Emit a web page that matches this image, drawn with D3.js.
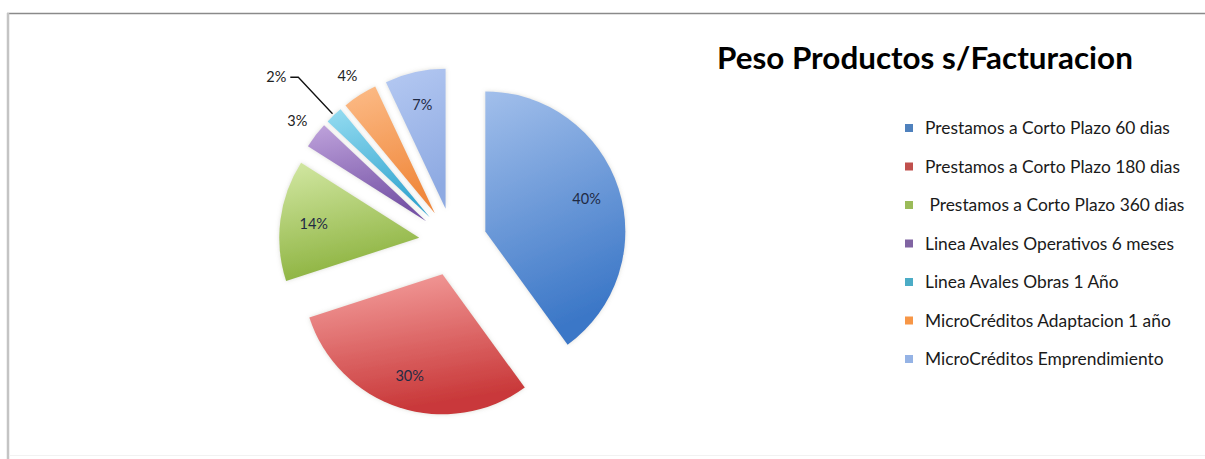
<!DOCTYPE html>
<html>
<head>
<meta charset="utf-8">
<script src="https://cdn.jsdelivr.net/npm/d3@7"></script>
<style>
  html, body { margin: 0; padding: 0; background: #fff; }
  svg { display: block; }
  text { font-family: Lato, "Open Sans", sans-serif; }
</style>
</head>
<body>
<svg id="chart" width="1205" height="459"></svg>
<script>
// Product weights over billing (percent)
const categories = [
  "Prestamos a Corto Plazo 60 dias",
  "Prestamos a Corto Plazo 180 dias",
  " Prestamos a Corto Plazo 360 dias",
  "Linea Avales Operativos 6 meses",
  "Linea Avales Obras 1 Año",
  "MicroCréditos Adaptacion 1 año",
  "MicroCréditos Emprendimiento"
];
const values = [40, 30, 14, 3, 2, 4, 7];
const labels = ["40%", "30%", "14%", "3%", "2%", "4%", "7%"];
// Slices small enough to carry their label outside the pie
const outsideLabel = [false, false, false, true, true, true, false];
const title = "Peso Productos s/Facturacion";

// Gradient stops per slice: light top, deeper bottom
const colorTop    = ["#a2bfeb", "#f6a3a1", "#d3e8a4", "#bfa3dc", "#95dcf1", "#fcbc88", "#b5c9f2"];
const colorBottom = ["#3b77c7", "#c9393a", "#8db340", "#7653a6", "#35a6d0", "#f0883c", "#8eaae2"];
const swatch      = ["#4f81bd", "#c0504d", "#9bbb59", "#8064a2", "#4bacc6", "#f79646", "#95b3e5"];

const svg = d3.select("#chart");
const W = 1205, H = 459;

// Chart frame
svg.append("line").attr("x1", 7).attr("x2", W).attr("y1", 13.5).attr("y2", 13.5)
  .attr("stroke", "#8a8a8a").attr("stroke-width", 1.5);
svg.append("line").attr("x1", 8).attr("x2", 8).attr("y1", 13).attr("y2", H)
  .attr("stroke", "#c4c4c4").attr("stroke-width", 2.5);
svg.append("line").attr("x1", 9).attr("x2", W).attr("y1", 455.5).attr("y2", 455.5)
  .attr("stroke", "#f2f2f2").attr("stroke-width", 1);

const defs = svg.append("defs");
values.forEach((v, i) => {
  const g = defs.append("linearGradient").attr("id", "grad" + i)
    .attr("x1", 0).attr("y1", 0).attr("x2", 0.25).attr("y2", 1);
  g.append("stop").attr("offset", "0%").attr("stop-color", colorTop[i]);
  g.append("stop").attr("offset", "100%").attr("stop-color", colorBottom[i]);
});
const glow = defs.append("filter").attr("id", "glow")
  .attr("x", "-20%").attr("y", "-20%").attr("width", "140%").attr("height", "140%");
glow.append("feGaussianBlur").attr("in", "SourceAlpha").attr("stdDeviation", 2.2).attr("result", "b");
glow.append("feFlood").attr("flood-color", "#9a9a8a").attr("flood-opacity", 0.35);
glow.append("feComposite").attr("in2", "b").attr("operator", "in").attr("result", "s");
const merge = glow.append("feMerge");
merge.append("feMergeNode").attr("in", "s");
merge.append("feMergeNode").attr("in", "SourceGraphic");

// Pie layout
const cx = 453, cy = 242, R = 140, explode = 34;
const pie = d3.pie().sort(null).value(d => d)(values);
const arc = d3.arc().innerRadius(0).outerRadius(R);
const dirOf = a => [Math.sin(a), -Math.cos(a)];

const gPie = svg.append("g").attr("transform", `translate(${cx},${cy})`);
const slices = gPie.selectAll("g.slice").data(pie).join("g")
  .attr("class", "slice")
  .attr("transform", d => {
    const m = (d.startAngle + d.endAngle) / 2, [dx, dy] = dirOf(m);
    return `translate(${dx * explode},${dy * explode})`;
  });
slices.append("path")
  .attr("d", arc)
  .attr("fill", d => `url(#grad${d.index})`)
  .attr("filter", "url(#glow)");

// Labels inside large slices
slices.filter(d => !outsideLabel[d.index]).append("text")
  .attr("transform", d => {
    const m = (d.startAngle + d.endAngle) / 2, [dx, dy] = dirOf(m);
    const lr = R * 0.76;
    return `translate(${dx * lr},${dy * lr})`;
  })
  .attr("text-anchor", "middle").attr("dy", "0.35em")
  .attr("font-size", 14.5).attr("fill", "#1f2a44")
  .text(d => labels[d.index]);

// Labels outside small slices
pie.forEach(d => {
  const i = d.index;
  if (!outsideLabel[i]) return;
  const m = (d.startAngle + d.endAngle) / 2, [dx, dy] = dirOf(m);
  if (values[i] === 2) {
    // crowded slice: leader line out to a label further away
    const p1 = [dx * (explode + R + 2), dy * (explode + R + 2)];
    const p2 = [dx * 226, dy * 226];
    const p3 = [p2[0] - 8, p2[1]];
    gPie.append("polyline")
      .attr("points", [p1, p2, p3].map(p => p.join(",")).join(" "))
      .attr("fill", "none").attr("stroke", "#111").attr("stroke-width", 1.3);
    gPie.append("text").attr("x", p3[0] - 4).attr("y", p3[1])
      .attr("text-anchor", "end").attr("dy", "0.35em")
      .attr("font-size", 14.5).attr("fill", "#222").text(labels[i]);
  } else {
    const lr = 197;
    gPie.append("text").attr("x", dx * lr).attr("y", dy * lr)
      .attr("text-anchor", "middle").attr("dy", "0.35em")
      .attr("font-size", 14.5).attr("fill", "#222").text(labels[i]);
  }
});

// Title
const t = svg.append("text").attr("x", 717).attr("y", 69)
  .attr("font-size", 26).attr("font-weight", "bold").attr("fill", "#000")
  .text(title);
const tw = t.node().getComputedTextLength();
t.attr("font-size", 26 * 416 / tw);

// Legend
const legend = svg.append("g").attr("transform", "translate(905,128)");
const rowY = d3.scalePoint().domain(d3.range(categories.length)).range([0, 231]);
const rows = legend.selectAll("g").data(categories).join("g")
  .attr("transform", (d, i) => `translate(0,${rowY(i)})`);
rows.append("rect").attr("x", 0).attr("y", -4).attr("width", 8).attr("height", 8)
  .attr("fill", (d, i) => swatch[i]);
const legendText = rows.append("text").attr("x", 20).attr("dy", "0.35em")
  .attr("font-size", 14).attr("fill", "#1a1a1a")
  .attr("xml:space", "preserve").style("white-space", "pre")
  .text(d => d);
// size legend text so the first entry spans its column
const lw = legendText.node().getComputedTextLength();
legendText.attr("font-size", 14 * 245 / lw);
</script>
</body>
</html>
